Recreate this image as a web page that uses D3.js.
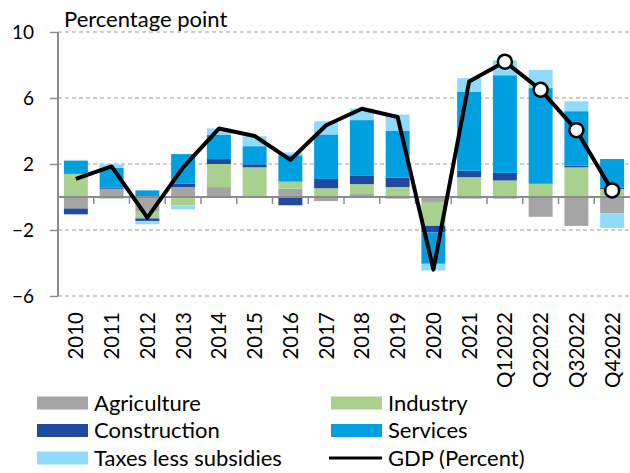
<!DOCTYPE html>
<html>
<head>
<meta charset="utf-8">
<script src="https://cdn.jsdelivr.net/npm/d3@7"></script>
<style>
  html, body { margin: 0; padding: 0; background: #fff; }
  svg { display: block; font-family: Lato, "Open Sans", sans-serif; }
</style>
</head>
<body>
<svg id="chart" width="630" height="473"></svg>
<script>
const categories = ["2010","2011","2012","2013","2014","2015","2016","2017","2018","2019","2020","2021","Q12022","Q22022","Q32022","Q42022"];
const agriculture  = [-0.7, 0.5, -0.85, 0.6, 0.6, 0.0, 0.5, -0.25, 0.18, -0.1, -0.3, -0.1, -0.1, -1.2, -1.75, -1.0];
const industry     = [1.4, -0.1, -0.45, -0.5, 1.4, 1.8, 0.43, 0.53, 0.6, 0.6, -1.45, 1.2, 1.0, 0.8, 1.8, 0.48];
const construction = [-0.35, 0.08, -0.15, 0.2, 0.3, 0.18, -0.5, 0.56, 0.5, 0.57, -0.4, 0.39, 0.46, 0.0, 0.1, 0.1];
const services     = [0.8, 1.2, 0.4, 1.8, 1.48, 1.1, 1.6, 2.7, 3.38, 2.83, -1.9, 4.78, 5.92, 5.8, 3.3, 1.72];
const taxes        = [0.05, 0.2, -0.2, -0.25, 0.38, 0.6, 0.17, 0.8, 0.7, 1.0, -0.4, 0.83, 0.9, 1.1, 0.6, -0.87];
const gdp          = [1.1, 1.85, -1.25, 1.8, 4.15, 3.7, 2.25, 4.35, 5.35, 4.85, -4.4, 7.0, 8.2, 6.5, 4.05, 0.4];
const markedPoints = ["Q12022","Q22022","Q32022","Q42022"];
const yTicks = [10, 6, 2, -2, -6];

const seriesNames = ["Agriculture","Industry","Construction","Services","Taxes less subsidies"];
const seriesValues = [agriculture, industry, construction, services, taxes];
const colors = ["#A5A5A5","#A9D18E","#1F4AA0","#009FDF","#8FDBFC"];

const rows = categories.map((c, i) => {
  const r = { cat: c };
  seriesNames.forEach((s, k) => r[s] = seriesValues[k][i]);
  return r;
});

const svg = d3.select("#chart");
const plotLeft = 58, plotRight = 630, plotTop = 32, plotBottom = 296;

const x = d3.scaleBand().domain(categories).range([plotLeft, plotRight]).paddingInner(0.33).paddingOuter(0.165);
const y = d3.scaleLinear().domain([-6, 10]).range([plotBottom, plotTop]);

// gridlines
svg.append("g").selectAll("line").data(yTicks).join("line")
  .attr("x1", plotLeft).attr("x2", plotRight)
  .attr("y1", d => y(d)).attr("y2", d => y(d))
  .attr("stroke", "#BFBFBF").attr("stroke-width", 1.5)
  .attr("stroke-dasharray", "4,3");

// stacked bars
const stack = d3.stack().keys(seriesNames).offset(d3.stackOffsetDiverging);
const stacked = stack(rows);
svg.append("g").selectAll("g").data(stacked).join("g")
  .attr("fill", (d, i) => colors[i])
  .selectAll("rect").data(d => d).join("rect")
  .attr("x", d => x(d.data.cat))
  .attr("width", x.bandwidth())
  .attr("y", d => y(Math.max(d[0], d[1])))
  .attr("height", d => Math.abs(y(d[0]) - y(d[1])));

// y axis
const yAxis = d3.axisLeft(y).tickValues(yTicks).tickSize(8).tickPadding(16).tickFormat(d3.format("d"));
const gy = svg.append("g").attr("transform", `translate(${plotLeft},0)`).call(yAxis);
gy.select(".domain").attr("stroke", "#8C8C8C").attr("stroke-width", 2).attr("d", `M0,${plotTop}V${plotBottom}`);
gy.selectAll(".tick line").attr("stroke", "#8C8C8C").attr("stroke-width", 1.5);
gy.selectAll(".tick text").attr("font-size", 19).attr("fill", "#000").attr("font-family", "Lato");

// zero line with boundary ticks
svg.append("line").attr("x1", plotLeft).attr("x2", plotRight).attr("y1", y(0)).attr("y2", y(0))
  .attr("stroke", "#8C8C8C").attr("stroke-width", 2);
svg.append("g").selectAll("line").data(categories.slice(1)).join("line")
  .attr("x1", d => x(d) - x.step() * x.paddingInner() / 2)
  .attr("x2", d => x(d) - x.step() * x.paddingInner() / 2)
  .attr("y1", y(0)).attr("y2", y(0) + 7)
  .attr("stroke", "#8C8C8C").attr("stroke-width", 1.5);

// x labels
svg.append("g").selectAll("text").data(categories).join("text")
  .attr("transform", d => `translate(${x(d) + x.bandwidth() / 2},312) rotate(-90)`)
  .attr("text-anchor", "end").attr("dy", "0.36em")
  .attr("font-size", 20.5).attr("fill", "#000")
  .text(d => d);

// GDP line
const line = d3.line().x((d, i) => x(categories[i]) + x.bandwidth() / 2).y(d => y(d));
svg.append("path").datum(gdp).attr("d", line)
  .attr("fill", "none").attr("stroke", "#000").attr("stroke-width", 4)
  .attr("stroke-linejoin", "round");
svg.append("g").selectAll("circle")
  .data(categories.map((c, i) => ({ c, v: gdp[i] })).filter(d => markedPoints.includes(d.c)))
  .join("circle")
  .attr("cx", d => x(d.c) + x.bandwidth() / 2).attr("cy", d => y(d.v))
  .attr("r", 7).attr("fill", "#fff").attr("stroke", "#000").attr("stroke-width", 2.5);

// title
svg.append("text").attr("x", 64).attr("y", 27).attr("font-size", 22).attr("fill", "#000").text("Percentage point");

// legend
const legendItems = [
  { name: "Agriculture", color: colors[0], col: 0, row: 0 },
  { name: "Industry", color: colors[1], col: 1, row: 0 },
  { name: "Construction", color: colors[2], col: 0, row: 1 },
  { name: "Services", color: colors[3], col: 1, row: 1 },
  { name: "Taxes less subsidies", color: colors[4], col: 0, row: 2 },
  { name: "GDP (Percent)", color: "#000", col: 1, row: 2, line: true }
];
const colX = [37, 331];
const rowY = [403, 430.5, 458];
const lg = svg.append("g").selectAll("g").data(legendItems).join("g")
  .attr("transform", d => `translate(${colX[d.col]},${rowY[d.row]})`);
lg.filter(d => !d.line).append("rect").attr("x", 0).attr("y", -6.5).attr("width", 51).attr("height", 13).attr("fill", d => d.color);
lg.filter(d => d.line).append("line").attr("x1", -2).attr("x2", 51).attr("y1", 0).attr("y2", 0).attr("stroke", "#000").attr("stroke-width", 3);
lg.append("text").attr("x", 57).attr("dy", "0.36em").attr("font-size", 22).attr("fill", "#000").text(d => d.name);
</script>
</body>
</html>
